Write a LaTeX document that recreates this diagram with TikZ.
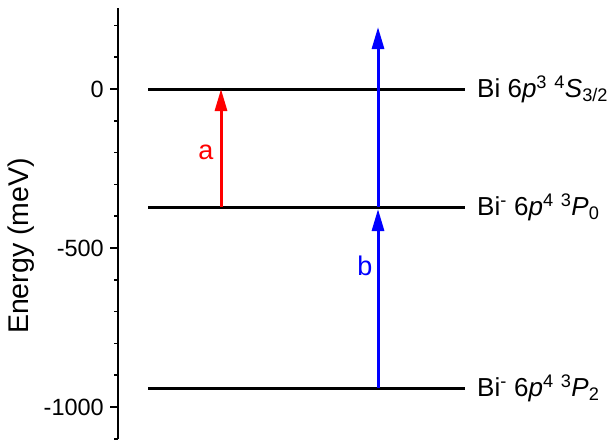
\documentclass[tikz,border=0pt]{standalone}
\usepackage{fontspec}
\setmainfont{Liberation Sans}
\usetikzlibrary{arrows.meta}
\newcommand{\sps}[1]{\textsuperscript{#1}}
\newcommand{\sbs}[1]{\textsubscript{#1}}
\begin{document}
\begin{tikzpicture}[x=1pt,y=-1pt,
  lvl/.style={line width=3pt},
  arr/.style={line width=3pt,-{Triangle[length=22pt,width=12pt]}},
  lbl/.style={font=\fontsize{26}{30}\selectfont,anchor=west,inner sep=0pt},
  ticklbl/.style={font=\fontsize{23.5}{28}\selectfont,anchor=east,inner sep=0pt},
  arrlbl/.style={font=\fontsize{27}{30}\selectfont,inner sep=0pt},
  axisline/.style={line width=1.5pt}]
\useasboundingbox (0,0) rectangle (612,439);
% axis
\draw[axisline] (118,8) -- (118,439);
\foreach \e in {0,-500,-1000}{
  \draw[axisline] (110,{89-0.318*\e}) -- (118,{89-0.318*\e});
}
\foreach \e in {200,100,-100,-200,-300,-400,-600,-700,-800,-900,-1100}{
  \draw[axisline] (114,{89-0.318*\e}) -- (118,{89-0.318*\e});
}
\node[ticklbl] (t0) at (104,89) {0};
\node[ticklbl] (t500) at (104,248) {-500};
\node[ticklbl] (t1000) at (104,407) {-1000};
\node[font=\fontsize{28.5}{32}\selectfont,rotate=90,inner sep=0pt] (ylab) at (21,246) {Energy (meV)};
% levels
\coordinate (S0) at (148,89);   \coordinate (S1) at (465,89);
\coordinate (P0a) at (148,207); \coordinate (P0b) at (465,207);
\coordinate (P2a) at (148,388); \coordinate (P2b) at (465,388);
\draw[lvl] (S0) -- (S1);
\draw[lvl] (P0a) -- (P0b);
\draw[lvl] (P2a) -- (P2b);
\node[lbl] (lS) at (477,89) {Bi 6\textit{p}\sps{3} \sps{4}\textit{S}\sbs{3/2}};
\node[lbl] (lP0) at (477,207) {Bi\sps{-} 6\textit{p}\sps{4} \sps{3}\textit{P}\sbs{0}};
\node[lbl] (lP2) at (477,388) {Bi\sps{-} 6\textit{p}\sps{4} \sps{3}\textit{P}\sbs{2}};
% arrows
\coordinate (aS) at (221,89);
\coordinate (aP) at (221,207);
\coordinate (bP2) at (378,388);
\coordinate (bP0) at (378,209);
\coordinate (bP0s) at (378,207);
\coordinate (bTop) at (378,27);
\draw[arr,red] (aP) -- (aS);
\draw[arr,blue] (bP2) -- (bP0);
\draw[arr,blue] (bP0s) -- (bTop);
\node[arrlbl,red] (la) at (206,152) {a};
\node[arrlbl,blue] (lb) at (365,266) {b};
\end{tikzpicture}
\end{document}
